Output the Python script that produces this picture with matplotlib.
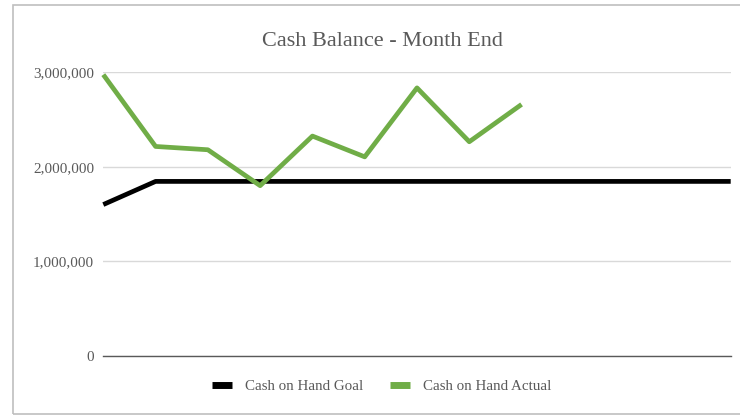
import matplotlib
matplotlib.use("Agg")
import matplotlib.pyplot as plt
from matplotlib.patches import Rectangle
from matplotlib.ticker import FuncFormatter

plt.rcParams['font.family'] = ['Liberation Serif', 'DejaVu Serif']

periods = list(range(13))
goal = [1600000] + [1845000] * 12
actual = [2975000, 2215000, 2180000, 1800000, 2325000, 2105000, 2835000, 2265000, 2660000]
title = "Cash Balance - Month End"
goal_label = "Cash on Hand Goal"
actual_label = "Cash on Hand Actual"
yticks = [0, 1000000, 2000000, 3000000]

text_color = "#595959"

fig = plt.figure(figsize=(7.4, 4.15), dpi=100)
fig.patch.set_facecolor("white")
fig.patches.append(Rectangle((13/740, 1.5/415), 1.0, 408.5/415, transform=fig.transFigure,
                             fill=False, edgecolor="#BFBFBF", linewidth=1.2))

ax = fig.add_axes([103.3/740, 59.3/415, 627.4/740, 283.4/415])
ax.set_xlim(0, 12)
ax.set_ylim(0, 3000000)
ax.set_yticks(yticks)
ax.yaxis.set_major_formatter(FuncFormatter(lambda v, p: f"{int(v):,}"))
ax.grid(axis='y', color="#D9D9D9", linewidth=1.0)
ax.set_axisbelow(True)
ax.set_xticks([])
for s in ['top', 'right', 'left']:
    ax.spines[s].set_visible(False)
ax.spines['bottom'].set_color("#595959")
ax.spines['bottom'].set_linewidth(1.0)
ax.tick_params(axis='y', length=0, pad=6.5, labelsize=10.9, labelcolor=text_color)

l1, = ax.plot(periods, goal, color="black", linewidth=3.4, solid_capstyle='butt',
              label=goal_label, clip_on=False, zorder=3)
l2, = ax.plot(periods[:len(actual)], actual, color="#70AD47", linewidth=3.4,
              solid_capstyle='butt', label=actual_label, clip_on=False, zorder=4)

fig.text(382/740, 1 - 41/415, title, ha='center', va='center', fontsize=16, color=text_color)

leg = fig.legend(handles=[l1, l2], loc='center', bbox_to_anchor=(382/740, 28.5/415),
                 ncol=2, frameon=False, fontsize=10.8, handlelength=1.3, handletextpad=0.9,
                 columnspacing=1.8)
for t in leg.get_texts():
    t.set_color(text_color)
for h in leg.legend_handles:
    h.set_linewidth(5)

fig.savefig("out.png", dpi=100, facecolor="white")
